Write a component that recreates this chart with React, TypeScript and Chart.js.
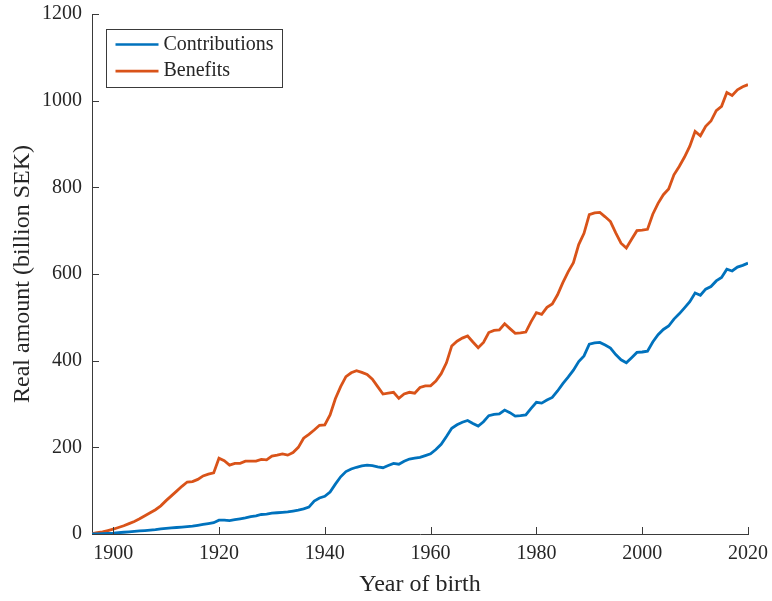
import React, { useEffect, useRef } from 'react';
import { Chart, registerables } from 'chart.js';

Chart.register(...registerables);

const years: number[] = [
  1896, 1897, 1898, 1899, 1900, 1901, 1902, 1903, 1904, 1905, 1906, 1907, 1908, 1909,
  1910, 1911, 1912, 1913, 1914, 1915, 1916, 1917, 1918, 1919, 1920, 1921, 1922, 1923,
  1924, 1925, 1926, 1927, 1928, 1929, 1930, 1931, 1932, 1933, 1934, 1935, 1936, 1937,
  1938, 1939, 1940, 1941, 1942, 1943, 1944, 1945, 1946, 1947, 1948, 1949, 1950, 1951,
  1952, 1953, 1954, 1955, 1956, 1957, 1958, 1959, 1960, 1961, 1962, 1963, 1964, 1965,
  1966, 1967, 1968, 1969, 1970, 1971, 1972, 1973, 1974, 1975, 1976, 1977, 1978, 1979,
  1980, 1981, 1982, 1983, 1984, 1985, 1986, 1987, 1988, 1989, 1990, 1991, 1992, 1993,
  1994, 1995, 1996, 1997, 1998, 1999, 2000, 2001, 2002, 2003, 2004, 2005, 2006, 2007,
  2008, 2009, 2010, 2011, 2012, 2013, 2014, 2015, 2016, 2017, 2018, 2019, 2020,
];

const contributions: number[] = [
  0, 0.5, 1, 1.5, 2, 3, 4, 5, 6, 7, 8, 9, 10, 12,
  13, 14, 15, 16, 17, 18, 20, 22, 24, 26, 32, 32, 31, 33,
  35, 37, 40, 42, 45, 46, 48, 49, 50, 51, 53, 55, 58, 62,
  76, 83, 87, 97, 115, 132, 144, 150, 154, 157, 159, 158, 155, 153,
  158, 163, 161, 168, 173, 175, 177, 181, 185, 195, 207, 225, 244, 252,
  258, 262, 255, 249, 259, 273, 276, 277, 286, 280, 272, 273, 275, 290,
  304, 302, 309, 315, 330, 347, 362, 378, 398, 411, 438, 441, 442, 436,
  429, 414, 402, 395, 407, 419, 420, 422, 443, 460, 472, 480, 496, 508,
  522, 536, 556, 551, 565, 571, 584, 592, 611, 607, 616, 620, 625,
];

const benefits: number[] = [
  1, 3, 5, 8, 11, 15, 19, 24, 29, 35, 42, 49, 56, 65,
  77, 88, 99, 110, 120, 121, 126, 134, 138, 141, 175, 169, 159, 163,
  163, 168, 168, 168, 172, 171, 180, 182, 185, 182, 188, 200, 221, 230,
  240, 251, 252, 275, 312, 340, 363, 372, 377, 373, 368, 357, 340, 323,
  325, 327, 313, 323, 327, 325, 338, 342, 342, 353, 370, 395, 434, 445,
  452, 457, 443, 430, 442, 465, 470, 471, 485, 474, 463, 464, 466, 490,
  511, 507, 523, 531, 552, 580, 605, 626, 668, 694, 737, 741, 742, 732,
  721, 695, 671, 660, 680, 700, 701, 703, 738, 763, 783, 796, 829, 848,
  870, 895, 929, 919, 941, 953, 977, 987, 1019, 1012, 1025, 1032, 1037,
];

const xTickValues: number[] = [1900, 1920, 1940, 1960, 1980, 2000, 2020];
const yTickValues: number[] = [0, 200, 400, 600, 800, 1000, 1200];

const seriesNames: string[] = ['Contributions', 'Benefits'];
const seriesColors: string[] = ['#0072BD', '#D95319'];

const FONT = "'Liberation Serif', 'Times New Roman', serif";
const AXIS_COLOR = '#3a3a3a';
const TEXT_COLOR = '#262626';

const inwardTicks = {
  id: 'inwardTicks',
  afterDraw(chart: any) {
    const { ctx, chartArea, scales } = chart;
    const len = 7;
    ctx.save();
    ctx.strokeStyle = AXIS_COLOR;
    ctx.lineWidth = 1;
    ctx.beginPath();
    for (const v of xTickValues) {
      const px = Math.round(scales.x.getPixelForValue(v)) + 0.5;
      ctx.moveTo(px, chartArea.bottom);
      ctx.lineTo(px, chartArea.bottom - len);
    }
    for (const v of yTickValues) {
      const py = Math.round(scales.y.getPixelForValue(v)) + 0.5;
      ctx.moveTo(chartArea.left, py);
      ctx.lineTo(chartArea.left + len, py);
    }
    ctx.stroke();
    ctx.restore();
  },
};

const boxedLegend = {
  id: 'boxedLegend',
  afterDraw(chart: any) {
    const { ctx, chartArea } = chart;
    const bx = Math.round(chartArea.left + 14) + 0.5;
    const by = Math.round(chartArea.top + 15) + 0.5;
    const bw = 176;
    const bh = 58;
    ctx.save();
    ctx.fillStyle = '#ffffff';
    ctx.fillRect(bx, by, bw, bh);
    ctx.strokeStyle = AXIS_COLOR;
    ctx.lineWidth = 1;
    ctx.strokeRect(bx, by, bw, bh);
    ctx.font = `20px ${FONT}`;
    ctx.textBaseline = 'middle';
    ctx.textAlign = 'left';
    chart.data.datasets.forEach((ds: any, i: number) => {
      const rowY = by + 15 + i * 26.7;
      ctx.strokeStyle = ds.borderColor;
      ctx.lineWidth = 2.7;
      ctx.beginPath();
      ctx.moveTo(bx + 9, rowY);
      ctx.lineTo(bx + 52, rowY);
      ctx.stroke();
      ctx.fillStyle = TEXT_COLOR;
      ctx.fillText(ds.label, bx + 57, rowY);
    });
    ctx.restore();
  },
};

export default function App() {
  const canvasRef = useRef<HTMLCanvasElement | null>(null);

  useEffect(() => {
    document.body.style.margin = '0';
    const canvas = canvasRef.current;
    if (!canvas) return;
    const series = [contributions, benefits];
    const chart = new Chart(canvas, {
      type: 'line',
      data: {
        datasets: series.map((vals, i) => ({
          label: seriesNames[i],
          data: years.map((yr, j) => ({ x: yr, y: vals[j] })),
          borderColor: seriesColors[i],
          backgroundColor: seriesColors[i],
          borderWidth: 2.8,
          pointRadius: 0,
          tension: 0,
          fill: false,
        })),
      },
      options: {
        animation: false,
        responsive: false,
        maintainAspectRatio: false,
        devicePixelRatio: 1,
        layout: { padding: { top: 14, right: 24, left: 0, bottom: 0 } },
        plugins: {
          legend: { display: false },
          tooltip: { enabled: false },
        },
        scales: {
          x: {
            type: 'linear',
            min: 1896,
            max: 2020,
            afterBuildTicks: (scale: any) => {
              scale.ticks = xTickValues.map((v) => ({ value: v }));
            },
            afterFit: (scale: any) => {
              scale.height = 67;
              scale.paddingLeft = 0;
              scale.paddingRight = 0;
            },
            grid: { display: false, drawTicks: false },
            border: { display: true, color: AXIS_COLOR, width: 1 },
            ticks: {
              padding: 8,
              color: TEXT_COLOR,
              font: { family: FONT, size: 20 },
              maxRotation: 0,
              autoSkip: false,
              callback: (v: any) => String(v),
            },
            title: {
              display: true,
              text: 'Year of birth',
              color: TEXT_COLOR,
              font: { family: FONT, size: 24 },
              padding: { top: 0, bottom: 2 },
            },
          },
          y: {
            type: 'linear',
            min: 0,
            max: 1200,
            afterBuildTicks: (scale: any) => {
              scale.ticks = yTickValues.map((v) => ({ value: v }));
            },
            afterFit: (scale: any) => {
              scale.width = 92;
              scale.paddingTop = 0;
              scale.paddingBottom = 0;
            },
            grid: { display: false, drawTicks: false },
            border: { display: true, color: AXIS_COLOR, width: 1 },
            ticks: {
              padding: 10,
              color: TEXT_COLOR,
              font: { family: FONT, size: 20 },
              callback: (v: any) => String(v),
            },
            title: {
              display: true,
              text: 'Real amount (billion SEK)',
              color: TEXT_COLOR,
              font: { family: FONT, size: 24 },
              padding: { top: 8, bottom: 0 },
            },
          },
        },
      },
      plugins: [inwardTicks, boxedLegend],
    });
    return () => chart.destroy();
  }, []);

  return (
    <div style={{ position: 'absolute', left: 0, top: 0, width: 772, height: 601 }}>
      <canvas ref={canvasRef} width={772} height={601} />
    </div>
  );
}
